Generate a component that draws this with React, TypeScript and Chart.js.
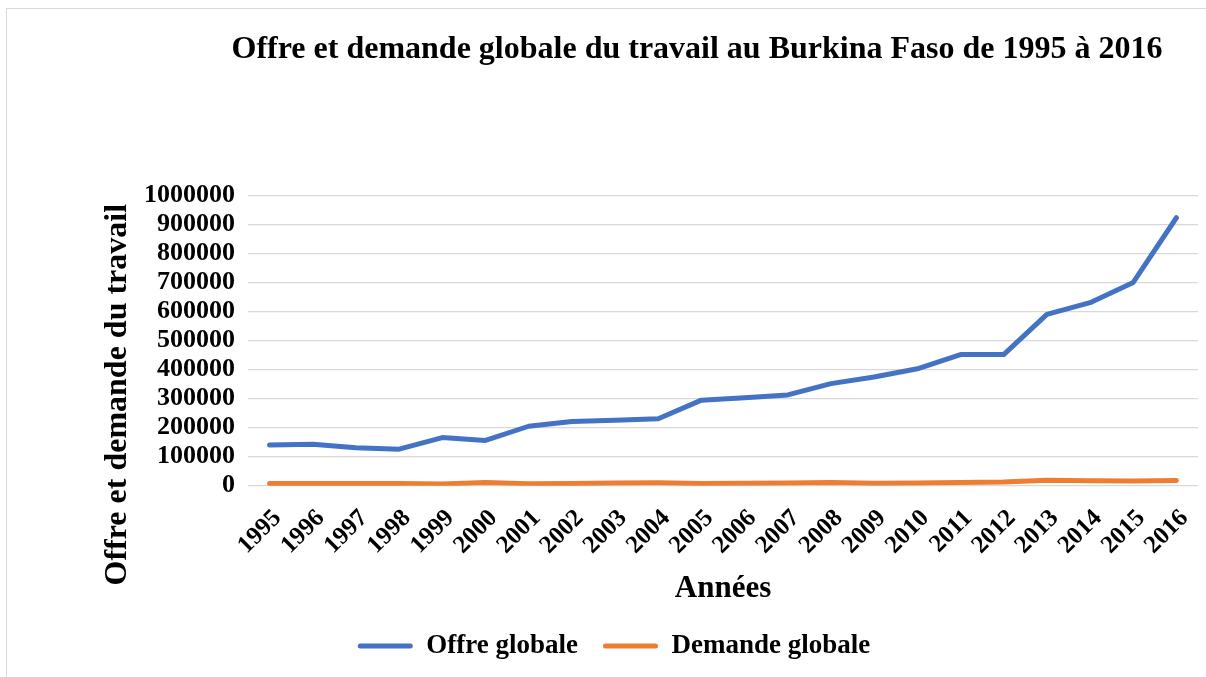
import React, { useEffect, useRef } from "react";
import { Chart, registerables } from "chart.js";

Chart.register(...registerables);

const years = [
  "1995", "1996", "1997", "1998", "1999", "2000", "2001", "2002", "2003", "2004", "2005",
  "2006", "2007", "2008", "2009", "2010", "2011", "2012", "2013", "2014", "2015", "2016",
];

const offreGlobale = [
  140000, 143000, 131000, 126000, 166000, 156000, 205000, 221000, 226000, 231000, 295000,
  303000, 313000, 352000, 375000, 403000, 452000, 452000, 591000, 631000, 701000, 924000,
];

const demandeGlobale = [
  8000, 8000, 8000, 7500, 6000, 11000, 7000, 8000, 9000, 10000, 8000,
  8500, 9500, 11000, 8500, 9500, 11000, 13000, 19000, 17000, 16500, 18000,
];

const yMin = 0;
const yMax = 1000000;
const yStep = 100000;

const titleText = "Offre et demande globale du travail au Burkina Faso de 1995 à 2016";
const xTitleText = "Années";
const yTitleText = "Offre et demande du travail";
const seriesNames = ["Offre globale", "Demande globale"];

const FONT = "'Liberation Serif', 'Times New Roman', serif";
const BLUE = "#4472C4";
const ORANGE = "#ED7D31";
const GRID = "#D9D9D9";

const TITLE_SHIFT_X = 98;
const Y_TITLE_SHIFT = 54;
const LEGEND_SHIFT_X = 15;

export default function App() {
  const ref = useRef<HTMLCanvasElement>(null);

  useEffect(() => {
    const canvas = ref.current;
    if (!canvas) return;

    const shiftPlugin = {
      id: "shiftTitles",
      afterLayout(chart: any) {
        const tb = chart.titleBlock;
        if (tb) {
          tb.left += TITLE_SHIFT_X;
          tb.right += TITLE_SHIFT_X;
        }
        const lg = chart.legend;
        if (lg) {
          lg.left += LEGEND_SHIFT_X;
          lg.right += LEGEND_SHIFT_X;
        }
        const ys = chart.scales.y;
        if (ys && !ys._shiftPatched) {
          const orig = ys.drawTitle.bind(ys);
          ys.drawTitle = function () {
            const t = this.top;
            const b = this.bottom;
            this.top = t + Y_TITLE_SHIFT;
            this.bottom = b + Y_TITLE_SHIFT;
            orig();
            this.top = t;
            this.bottom = b;
          };
          ys._shiftPatched = true;
        }
      },
    };

    const chart = new Chart(canvas, {
      type: "line",
      data: {
        labels: years,
        datasets: [
          {
            label: seriesNames[0],
            data: offreGlobale,
            borderColor: BLUE,
            backgroundColor: BLUE,
            borderWidth: 5,
            pointRadius: 0,
            pointHoverRadius: 0,
            borderCapStyle: "round",
            borderJoinStyle: "round",
            tension: 0,
          },
          {
            label: seriesNames[1],
            data: demandeGlobale,
            borderColor: ORANGE,
            backgroundColor: ORANGE,
            borderWidth: 5,
            pointRadius: 0,
            pointHoverRadius: 0,
            borderCapStyle: "round",
            borderJoinStyle: "round",
            tension: 0,
          },
        ],
      },
      options: {
        responsive: false,
        animation: false,
        devicePixelRatio: 1,
        color: "#000",
        layout: { padding: { left: 0, right: 8, top: 0, bottom: 7.5 } },
        plugins: {
          title: {
            display: true,
            text: titleText,
            color: "#000",
            font: { family: FONT, size: 32, weight: "bold" },
            padding: { top: 30.8, bottom: 126.5 },
          },
          legend: {
            position: "bottom",
            labels: {
              color: "#000",
              font: { family: FONT, size: 27, weight: "bold" },
              boxWidth: 55,
              boxHeight: 5,
              padding: 25,
              generateLabels(chart: any) {
                const base = Chart.defaults.plugins.legend.labels.generateLabels(chart);
                return base.map((l: any) => ({
                  ...l,
                  fillStyle: l.strokeStyle,
                  lineWidth: 0,
                  borderRadius: 2.5,
                }));
              },
            },
          },
          tooltip: { enabled: false },
        },
        scales: {
          x: {
            offset: true,
            grid: { display: false, drawTicks: false },
            border: { display: false },
            ticks: {
              color: "#000",
              font: { family: FONT, size: 25, weight: "bold" },
              minRotation: 45,
              maxRotation: 45,
              autoSkip: false,
              padding: 18,
              labelOffset: 8,
            },
            title: {
              display: true,
              text: xTitleText,
              color: "#000",
              font: { family: FONT, size: 31, weight: "bold" },
              padding: { top: 0, bottom: 0 },
            },
            afterFit(scale: any) {
              scale.height = 121.8;
              scale.paddingLeft = 0;
              scale.paddingRight = 0;
            },
          },
          y: {
            min: yMin,
            max: yMax,
            grid: { color: GRID, lineWidth: 1.3, drawTicks: false },
            border: { display: false },
            ticks: {
              stepSize: yStep,
              autoSkip: false,
              color: "#000",
              font: { family: FONT, size: 26, weight: "bold" },
              padding: 13,
              callback: (v: any) => String(v),
            },
            title: {
              display: true,
              text: yTitleText,
              color: "#000",
              font: { family: FONT, size: 32, weight: "bold" },
              padding: { top: 98.8, bottom: 0 },
            },
            afterFit(scale: any) {
              scale.width = 248;
            },
          },
        },
      },
      plugins: [shiftPlugin],
    });

    return () => chart.destroy();
  }, []);

  return (
    <div
      style={{
        position: "absolute",
        left: 0,
        top: 0,
        width: 1206,
        height: 677,
        background: "#fff",
        overflow: "hidden",
      }}
    >
      <div
        style={{
          position: "absolute",
          left: 6,
          top: 8,
          width: 1300,
          height: 800,
          borderLeft: "1.5px solid #D9D9D9",
          borderTop: "1.5px solid #D9D9D9",
        }}
      />
      <canvas
        ref={ref}
        width={1206}
        height={677}
        style={{ position: "absolute", left: 0, top: 0, width: 1206, height: 677 }}
      />
    </div>
  );
}
